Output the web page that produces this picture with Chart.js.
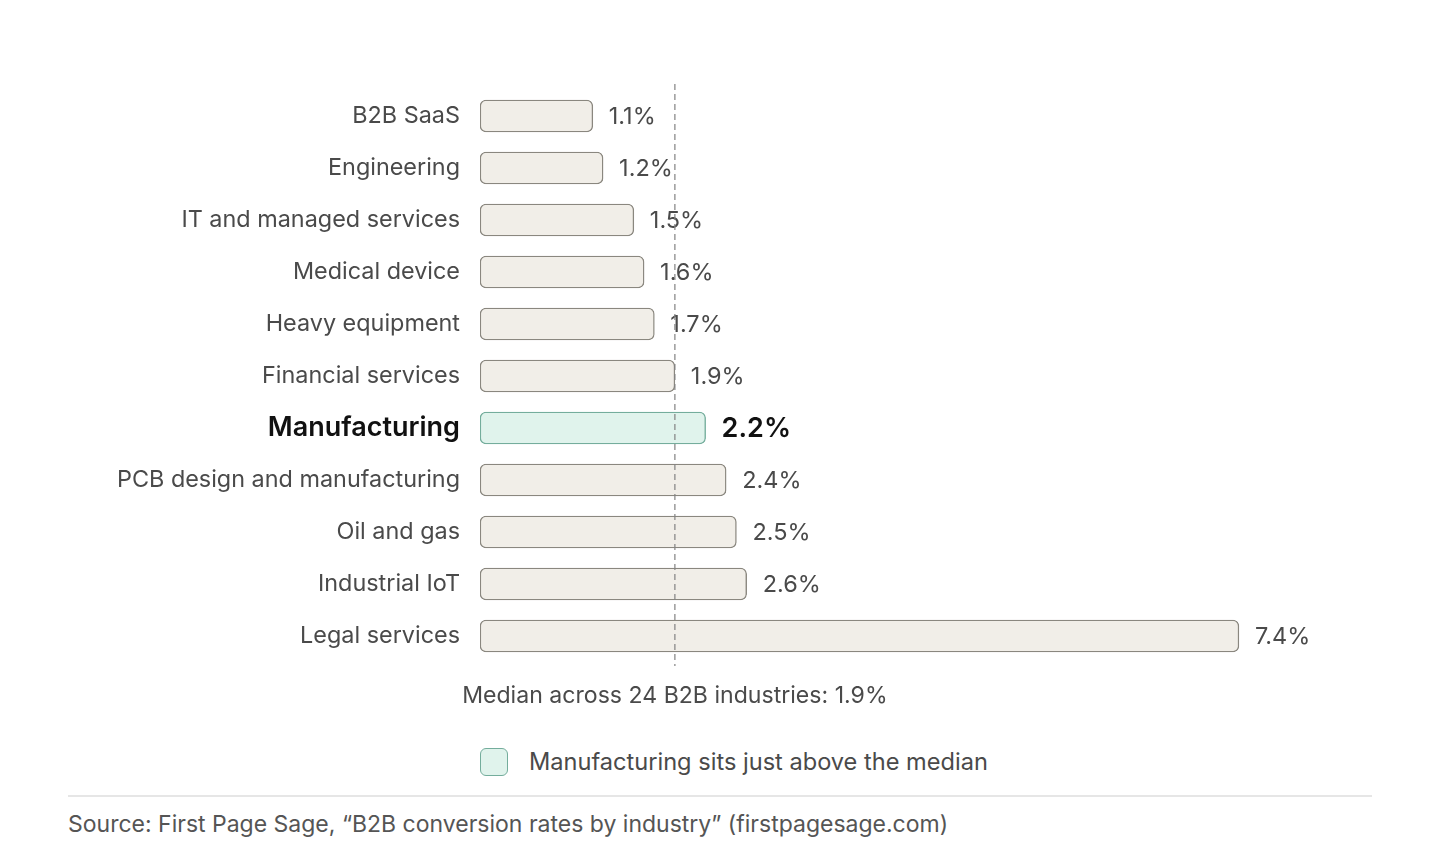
<!DOCTYPE html>
<html>
<head>
<meta charset="utf-8">
<script src="https://cdn.jsdelivr.net/npm/chart.js@4.4.1/dist/chart.umd.min.js"></script>
<style>
  html, body { margin: 0; padding: 0; background: #fff; }
  body { width: 1440px; height: 860px; position: relative; overflow: hidden; font-family: Inter, "Noto Sans", sans-serif; color: #4a4a4a; }
  #wrap { position: absolute; left: 0; top: 0; width: 1440px; height: 720px; }
  .legend { position: absolute; left: 480px; top: 747px; display: flex; align-items: center; font-size: 23.6px; }
  .legend .box { width: 28px; height: 28px; border: 1.5px solid #74ad9c; background: #e0f3ec; border-radius: 6px; margin-right: 21px; box-sizing: border-box; }
  .rule { position: absolute; left: 68px; width: 1304px; top: 795px; height: 0; border-top: 2px solid #e6e6e6; }
  .source { position: absolute; left: 68px; top: 810px; font-size: 23px; color: #555; }
</style>
</head>
<body>
<div id="wrap"><canvas id="rates"></canvas></div>
<div class="legend"><span class="box"></span><span>Manufacturing sits just above the median</span></div>
<div class="rule"></div>
<div class="source">Source: First Page Sage, “B2B conversion rates by industry” (firstpagesage.com)</div>
<script>
// conversion rate by industry, %
const industries = ["B2B SaaS", "Engineering", "IT and managed services", "Medical device", "Heavy equipment",
  "Financial services", "Manufacturing", "PCB design and manufacturing", "Oil and gas", "Industrial IoT", "Legal services"];
const rates = [1.1, 1.2, 1.5, 1.6, 1.7, 1.9, 2.2, 2.4, 2.5, 2.6, 7.4];
const highlight = "Manufacturing";
const median = 1.9;
const medianLabel = "Median across 24 B2B industries: 1.9%";

const FONT = 'Inter, "Noto Sans", sans-serif';
const isHi = (i) => industries[i] === highlight;

const valueLabels = {
  id: "valueLabels",
  afterDatasetsDraw(chart) {
    const ctx = chart.ctx;
    const meta = chart.getDatasetMeta(0);
    ctx.save();
    ctx.textBaseline = "middle";
    ctx.textAlign = "left";
    meta.data.forEach((bar, i) => {
      ctx.font = isHi(i) ? `600 27px ${FONT}` : `400 23.5px ${FONT}`;
      ctx.fillStyle = isHi(i) ? "#111" : "#4a4a4a";
      ctx.fillText(rates[i].toFixed(1) + "%", bar.x + 16, bar.y + 1);
    });
    ctx.restore();
  }
};

const medianLine = {
  id: "medianLine",
  afterDraw(chart) {
    const ctx = chart.ctx;
    const x = chart.scales.x.getPixelForValue(median);
    const area = chart.chartArea;
    ctx.save();
    ctx.strokeStyle = "rgba(130,130,130,0.8)";
    ctx.lineWidth = 1.5;
    ctx.setLineDash([6, 4]);
    ctx.beginPath();
    ctx.moveTo(x, area.top - 6);
    ctx.lineTo(x, area.bottom + 4);
    ctx.stroke();
    ctx.setLineDash([]);
    ctx.font = `400 23.1px ${FONT}`;
    ctx.fillStyle = "#4a4a4a";
    ctx.textAlign = "center";
    ctx.textBaseline = "middle";
    ctx.fillText(medianLabel, x, area.bottom + 34);
    ctx.restore();
  }
};

new Chart(document.getElementById("rates"), {
  type: "bar",
  data: {
    labels: industries,
    datasets: [{
      data: rates,
      backgroundColor: industries.map((c) => c === highlight ? "#e0f3ec" : "#f1eee8"),
      borderColor: industries.map((c) => c === highlight ? "#74ad9c" : "#8a877f"),
      borderWidth: 1.4,
      borderRadius: 6,
      borderSkipped: false,
      barThickness: 32,
    }],
  },
  options: {
    indexAxis: "y",
    responsive: true,
    maintainAspectRatio: false,
    animation: false,
    layout: { padding: { top: 90, bottom: 58, right: 37, left: 0 } },
    plugins: { legend: { display: false }, tooltip: { enabled: false } },
    scales: {
      x: { display: false, min: 0, max: 9 },
      y: {
        grid: { display: false },
        border: { display: false },
        afterFit(scale) { scale.width = 480; },
        ticks: {
          padding: 12,
          color: (c) => isHi(c.index) ? "#111" : "#4a4a4a",
          font: (c) => isHi(c.index) ? { family: FONT, size: 27, weight: "600" } : { family: FONT, size: 23.4, weight: "400" },
        },
      },
    },
  },
  plugins: [valueLabels, medianLine],
});
</script>
</body>
</html>
